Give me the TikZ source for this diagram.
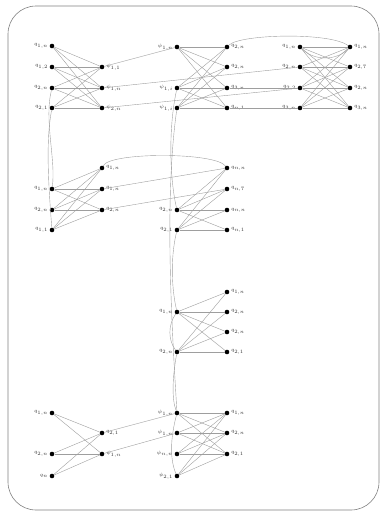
\documentclass[tikz,border=0pt]{standalone}
\usepackage{amsmath}
\begin{document}
\begin{tikzpicture}[x=1pt,y=-1pt,
  dot/.style={circle,fill=black,inner sep=0pt,minimum size=4.6pt},
  lab/.style={font=\fontsize{5.4}{6}\selectfont,text=black!80,inner sep=0.8pt},
  edge/.style={draw=black!38,line width=0.4pt},
  frame/.style={draw=black!50,line width=0.6pt,rounded corners=28pt}]
\useasboundingbox (0,0) rectangle (380,512);
\draw[frame] (8,6) rectangle (379,510);
\def\L#1#2#3#4{\node[dot] (#1) at (#2,#3) {}; \node[lab,anchor=east] at ([xshift=-0.5pt]#1.west) {$#4$};}
\def\R#1#2#3#4{\node[dot] (#1) at (#2,#3) {}; \node[lab,anchor=west] at ([xshift=0.5pt]#1.east) {$#4$};}
% block A
\L{al1}{52}{46}{q_{1,n}} \L{al2}{52}{67}{q_{1,2}} \L{al3}{52}{88}{q_{2,n}} \L{al4}{52}{108}{q_{2,1}}
\R{ar1}{102}{67}{\psi_{1,1}} \R{ar2}{102}{88}{\psi_{1,n}} \R{ar3}{102}{108}{\psi_{2,n}}
% block B
\L{bl1}{177}{47}{\psi_{1,n}} \L{bl3}{177}{88}{\psi_{1,i}} \L{bl4}{177}{108}{\psi_{1,i}}
\R{br1}{227}{47}{q_{2,n}} \R{br2}{227}{67}{q_{2,n}} \R{br3}{227}{88}{q_{3,n}} \R{br4}{227}{108}{q_{n,1}}
% block C
\L{cl1}{300}{47}{q_{1,n}} \L{cl2}{300}{67}{q_{2,n}} \L{cl3}{300}{88}{q_{2,2}} \L{cl4}{300}{108}{q_{3,n}}
\R{cr1}{350}{47}{q_{1,n}} \R{cr2}{350}{67}{q_{2,7}} \R{cr3}{350}{88}{q_{2,n}} \R{cr4}{350}{108}{q_{3,n}}
% block D
\L{dl1}{52}{189}{q_{1,n}} \L{dl2}{52}{210}{q_{2,n}} \L{dl3}{52}{230}{q_{1,1}}
\R{dr1}{102}{168}{q_{1,n}} \R{dr2}{102}{189}{q_{1,n}} \R{dr3}{102}{210}{q_{2,n}}
% block E
\L{el1}{177}{210}{q_{2,n}} \L{el2}{177}{230}{q_{2,1}}
\R{er1}{227}{168}{q_{n,n}} \R{er2}{227}{189}{q_{n,7}} \R{er3}{227}{210}{q_{n,n}} \R{er4}{227}{230}{q_{n,1}}
% block F
\L{fl1}{177}{312}{q_{1,n}} \L{fl2}{177}{352}{q_{2,n}}
\R{fr1}{227}{292}{q_{1,n}} \R{fr2}{227}{312}{q_{2,n}} \R{fr3}{227}{332}{q_{2,n}} \R{fr4}{227}{352}{q_{2,1}}
% block G
\L{gl1}{52}{413}{q_{1,n}} \L{gl2}{52}{454}{q_{2,n}} \L{gl3}{52}{476}{q_{n}}
\R{gr1}{102}{433}{q_{2,1}} \R{gr2}{102}{454}{\psi_{1,n}}
% block H
\L{hl1}{177}{413}{\psi_{1,n}} \L{hl2}{177}{433}{\psi_{1,n}} \L{hl3}{177}{454}{\psi_{n,n}} \L{hl4}{177}{476}{\psi_{2,1}}
\R{hr1}{227}{413}{q_{1,n}} \R{hr2}{227}{433}{q_{2,n}} \R{hr3}{227}{454}{q_{2,1}}
% ---------- bipartite edges
\foreach \a in {al1,al2,al3,al4}{\foreach \b in {ar1,ar2,ar3}{\draw[edge] (\a) -- (\b);}}
\foreach \a in {bl1,bl3,bl4}{\foreach \b in {br1,br2,br3,br4}{\draw[edge] (\a) -- (\b);}}
\foreach \a in {cl1,cl2,cl3,cl4}{\foreach \b in {cr1,cr2,cr3,cr4}{\draw[edge] (\a) -- (\b);}}
\foreach \a in {dl1,dl2,dl3}{\foreach \b in {dr1,dr2,dr3}{\draw[edge] (\a) -- (\b);}}
\foreach \a in {el1,el2}{\foreach \b in {er1,er2,er3,er4}{\draw[edge] (\a) -- (\b);}}
\foreach \a in {fl1,fl2}{\foreach \b in {fr1,fr2,fr3,fr4}{\draw[edge] (\a) -- (\b);}}
\foreach \a in {gl1,gl2,gl3}{\foreach \b in {gr1,gr2}{\draw[edge] (\a) -- (\b);}}
\foreach \a in {hl1,hl2,hl3,hl4}{\foreach \b in {hr1,hr2,hr3}{\draw[edge] (\a) -- (\b);}}
% ---------- connections between blocks
\draw[edge] (ar1) -- (bl1);
\draw[edge] (ar2) -- (cl2);
\draw[edge] (ar3) -- (cl3);
\draw[edge] (br1) .. controls (240,34) and (330,32) .. (cr1);
\draw[edge] (cl1) .. controls (315,62) and (338,60) .. (cr1);
\draw[edge] (br3) -- (cl3);
\draw[edge] (br4) -- (cl4);
\draw[edge] (al4) .. controls (46,140) and (48,180) .. (dl3);
\draw[edge] (al3) .. controls (44,120) and (56,160) .. (dl1);
\draw[edge] (dr1) .. controls (110,152) and (215,152) .. (er1);
\draw[edge] (dr2) -- (er1);
\draw[edge] (dr3) -- (er2);
\draw[edge] (bl4) .. controls (164,200) and (172,330) .. (hl1);
\draw[edge] (bl3) .. controls (168,130) and (170,180) .. (el1);
\draw[edge] (el2) .. controls (170,260) and (172,290) .. (fl1);
\draw[edge] (fl1) .. controls (168,325) and (168,340) .. (fl2);
\draw[edge] (fl2) .. controls (172,380) and (172,400) .. (hl1);
\draw[edge] (gr1) -- (hl1);
\draw[edge] (gr2) -- (hl2);
\draw[edge] (hl1) .. controls (170,440) and (170,460) .. (hl4);
\end{tikzpicture}
\end{document}
